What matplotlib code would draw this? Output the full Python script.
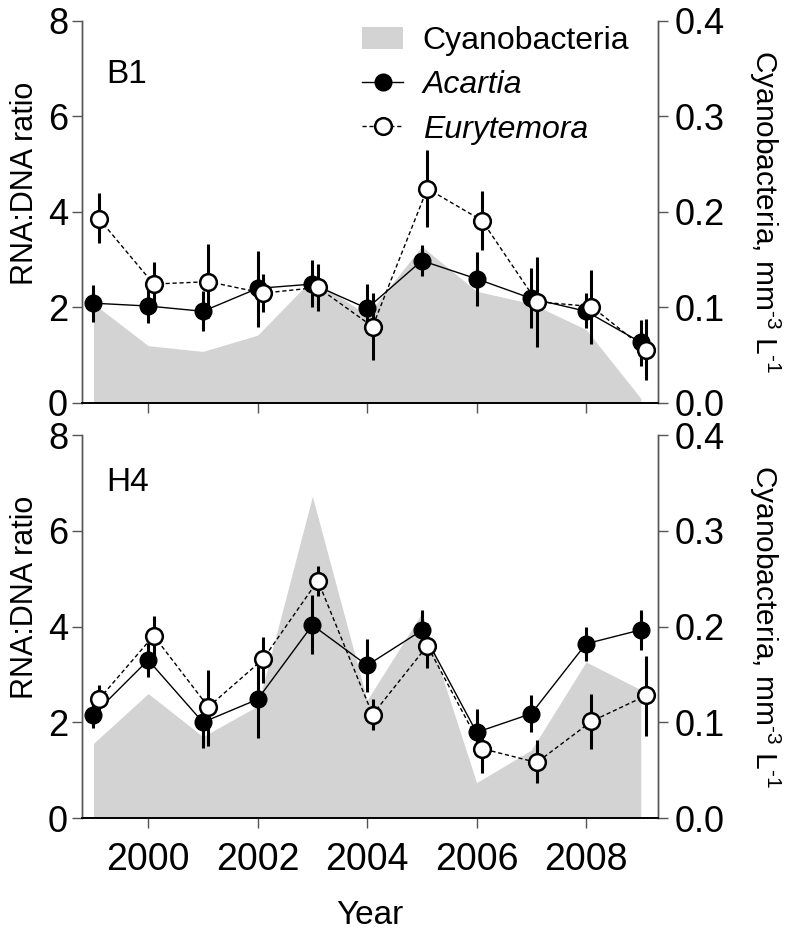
import numpy as np
import matplotlib
matplotlib.use('Agg')
import matplotlib.pyplot as plt
from matplotlib.patches import Patch
from matplotlib.lines import Line2D

plt.rcParams['font.family'] = ['Liberation Sans', 'DejaVu Sans']
plt.rcParams['mathtext.fontset'] = 'custom'
plt.rcParams['mathtext.rm'] = 'Liberation Sans'
plt.rcParams['mathtext.it'] = 'Liberation Sans:italic'

years = np.arange(1999, 2010)

# B1 station
b1_cyano = [0.104, 0.060, 0.054, 0.071, 0.130, 0.092, 0.164, 0.117, 0.104, 0.077, 0.005]
b1_acartia = [2.09, 2.03, 1.92, 2.40, 2.49, 1.98, 2.98, 2.60, 2.19, 1.92, 1.27]
b1_acartia_hi = [2.48, 2.39, 2.34, 3.19, 2.99, 2.50, 3.31, 3.17, 2.82, 2.30, 1.74]
b1_acartia_lo = [1.70, 1.68, 1.50, 1.60, 2.00, 1.46, 2.65, 2.04, 1.57, 1.57, 0.77]
b1_eury = [3.86, 2.49, 2.54, 2.30, 2.42, 1.60, 4.49, 3.82, 2.12, 2.02, 1.11]
b1_eury_hi = [4.39, 2.96, 3.32, 2.70, 2.90, 2.30, 5.29, 4.43, 3.06, 2.79, 1.75]
b1_eury_lo = [3.34, 2.05, 1.78, 1.90, 1.92, 0.89, 3.69, 3.20, 1.18, 1.24, 0.49]

# H4 station
h4_cyano = [0.078, 0.130, 0.085, 0.117, 0.336, 0.123, 0.214, 0.037, 0.071, 0.163, 0.134]
h4_acartia = [2.16, 3.30, 2.00, 2.48, 4.03, 3.19, 3.92, 1.79, 2.18, 3.64, 3.93]
h4_acartia_hi = [2.43, 3.65, 2.50, 3.30, 4.66, 3.74, 4.35, 2.27, 2.56, 4.00, 4.35]
h4_acartia_lo = [1.88, 2.94, 1.47, 1.67, 3.43, 2.64, 3.44, 1.29, 1.79, 3.29, 3.50]
h4_eury = [2.48, 3.81, 2.32, 3.32, 4.96, 2.16, 3.60, 1.45, 1.16, 2.02, 2.56]
h4_eury_hi = [2.78, 4.23, 3.10, 3.79, 5.27, 2.48, 4.07, 1.88, 1.62, 2.59, 3.39]
h4_eury_lo = [2.23, 3.41, 1.51, 2.82, 4.64, 1.83, 3.13, 0.95, 0.73, 1.44, 1.72]

stations = ['B1', 'H4']
station_y = [0.86, 0.875]
cyano = [b1_cyano, h4_cyano]
acartia = [(b1_acartia, b1_acartia_lo, b1_acartia_hi), (h4_acartia, h4_acartia_lo, h4_acartia_hi)]
eury = [(b1_eury, b1_eury_lo, b1_eury_hi), (h4_eury, h4_eury_lo, h4_eury_hi)]

fig = plt.figure(figsize=(7.92, 9.35), dpi=100)
spine_col = '#555555'

boxes = [[0.1035, 0.569, 0.7273, 0.4086], [0.1035, 0.1251, 0.7273, 0.4096]]
for i in range(2):
    ax = fig.add_axes(boxes[i])
    ax2 = ax.twinx()
    ax.set_zorder(ax2.get_zorder() + 1)
    ax.patch.set_visible(False)

    ax2.fill_between(years, cyano[i], 0, color='#d3d3d3', lw=0)
    ax2.set_ylim(0, 0.4)
    ax2.set_yticks([0.0, 0.1, 0.2, 0.3, 0.4])
    ax2.set_yticklabels(['%.1f' % v for v in [0.0, 0.1, 0.2, 0.3, 0.4]])
    ax2.set_ylabel(r'Cyanobacteria, mm$^{\mathrm{\text{-}3}}$ L$^{\mathrm{\text{-}1}}$', rotation=270, fontsize=21.5)
    ax2.yaxis.label.set_va('center')
    ax2.yaxis.set_label_coords(1.185, 0.5)

    a, alo, ahi = [np.array(v) for v in acartia[i]]
    e, elo, ehi = [np.array(v) for v in eury[i]]
    xe = years + 0.1
    ax.errorbar(years, a, yerr=[a - alo, ahi - a], fmt='none', ecolor='black', elinewidth=2.2, capsize=0, zorder=2)
    ax.plot(years, a, color='black', lw=1.0, marker='o', ms=12, mfc='black', mec='black', zorder=3)
    ax.errorbar(xe, e, yerr=[e - elo, ehi - e], fmt='none', ecolor='black', elinewidth=2.2, capsize=0, zorder=4)
    ax.plot(xe, e, color='black', lw=1.0, ls=(0, (3, 2)), marker='o', ms=12, mfc='white', mec='black',
            mew=1.8, zorder=5)

    ax.set_xlim(1998.79, 2009.315)
    ax.set_ylim(0, 8)
    ax.set_yticks([0, 2, 4, 6, 8])
    ax.set_xticks([2000, 2002, 2004, 2006, 2008])
    ax.set_ylabel('RNA:DNA ratio', fontsize=22)
    ax.yaxis.label.set_va('center')
    ax.yaxis.set_label_coords(-0.099, 0.575)
    ax.text(0.042, station_y[i], stations[i], transform=ax.transAxes, fontsize=24, ha='left', va='center')

    for axx in (ax, ax2):
        axx.spines['top'].set_visible(False)
        for s in ['left', 'right']:
            axx.spines[s].set_color(spine_col)
            axx.spines[s].set_linewidth(1.0)
        axx.spines['bottom'].set_color('black')
        axx.spines['bottom'].set_linewidth(1.2)
        axx.tick_params(axis='y', direction='out', length=7, width=1.0, color=spine_col, labelsize=26, pad=3)
    ax2.tick_params(axis='y', pad=5)
    ax.tick_params(axis='x', direction='out', length=7, width=1.0, color=spine_col, labelsize=27, pad=10)
    if i == 0:
        ax.set_xticklabels([])
        handles = [Patch(facecolor='#d3d3d3', edgecolor='none'),
                   Line2D([], [], color='black', lw=1.0, marker='o', ms=12, mfc='black'),
                   Line2D([], [], color='black', lw=1.0, ls=(0, (3, 2)), marker='o', ms=12, mfc='white', mew=1.8)]
        leg = ax.legend(handles, ['Cyanobacteria', 'Acartia', 'Eurytemora'], loc='upper left',
                        bbox_to_anchor=(0.486, 0.987), frameon=False, fontsize=23, handlelength=1.3,
                        handletextpad=0.6, labelspacing=0.45, borderpad=0, borderaxespad=0)
        for t in leg.get_texts()[1:]:
            t.set_style('italic')
    else:
        ax.set_xlabel('Year', fontsize=24, labelpad=16)

fig.savefig('out.png', dpi=100)
